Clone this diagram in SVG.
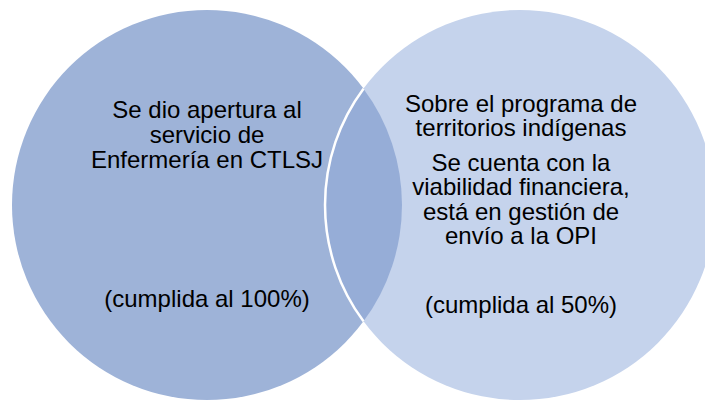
<svg xmlns="http://www.w3.org/2000/svg" width="705" height="400" viewBox="0 0 705 400">
<style>
text { font-family: "Liberation Sans", Arial, sans-serif; font-size: 24px; fill: #000; text-anchor: middle; }
</style>
<rect width="705" height="400" fill="#fff"/>
<g id="circle-left">
<circle cx="207" cy="205" r="195" fill="#9EB3D8"/>
</g>
<g id="circle-right">
<circle cx="520" cy="205" r="195" fill="#C5D3EC"/>
<path d="M363.5,88.7 A195,195 0 0 1 363.5,321.3 A195,195 0 0 1 363.5,88.7 Z" fill="#96ADD7"/>
<path d="M363.5,88.7 A195,195 0 0 0 363.5,321.3" fill="none" stroke="#fff" stroke-width="2.5"/>
</g>
<g id="text-left">
<text x="207" y="118">Se dio apertura al</text>
<text x="207" y="143">servicio de</text>
<text x="207" y="168">Enfermería en CTLSJ</text>
<text x="207" y="306.5">(cumplida al 100%)</text>
</g>
<g id="text-right">
<text x="521" y="111.5">Sobre el programa de</text>
<text x="521" y="136">territorios indígenas</text>
<text x="521" y="170.5">Se cuenta con la</text>
<text x="521" y="195">viabilidad financiera,</text>
<text x="521" y="219.5">está en gestión de</text>
<text x="521" y="244">envío a la OPI</text>
<text x="521" y="313">(cumplida al 50%)</text>
</g>
</svg>
